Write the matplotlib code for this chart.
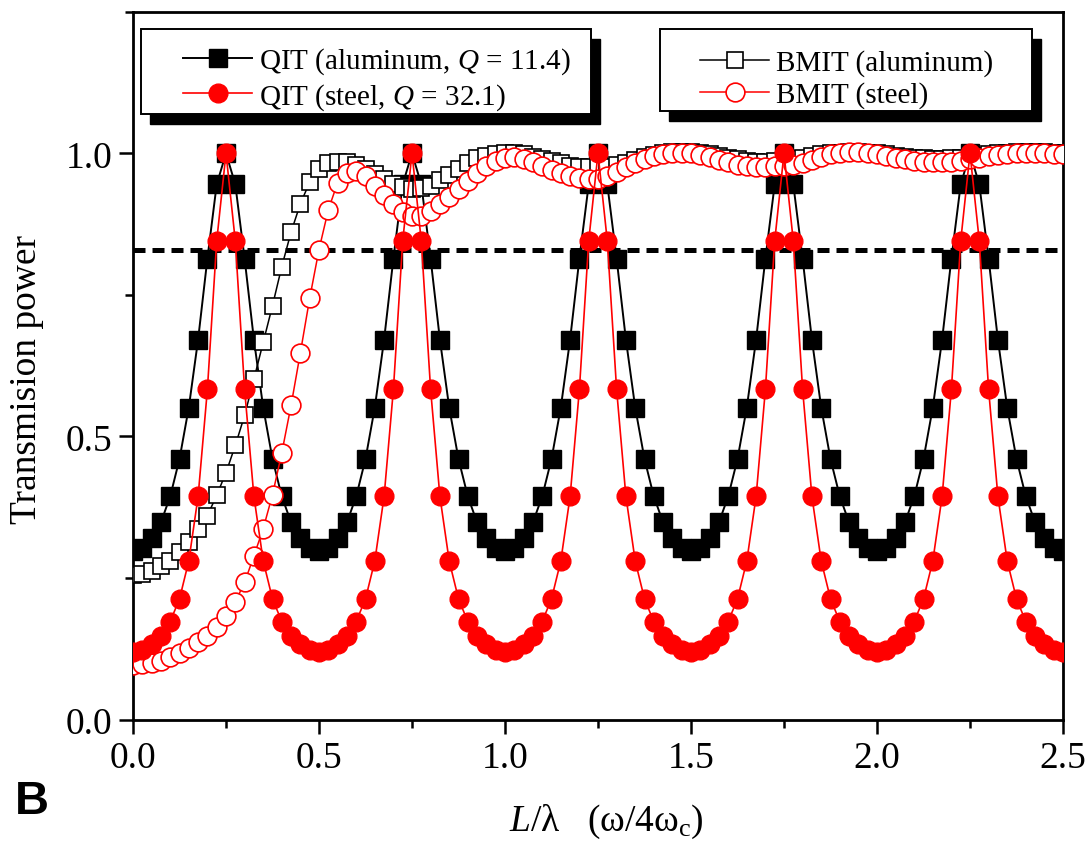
"""Transmission power vs L/lambda: QIT and BMIT for aluminum and steel."""

import matplotlib
matplotlib.use("Agg")
import matplotlib.pyplot as plt
from matplotlib.patches import Rectangle
from matplotlib.ticker import MultipleLocator
import numpy as np

plt.rcParams["font.family"] = ["Liberation Serif", "DejaVu Serif"]
plt.rcParams["mathtext.fontset"] = "custom"
plt.rcParams["mathtext.rm"] = "Liberation Serif"
plt.rcParams["mathtext.it"] = "Liberation Serif:italic"

# ---------- data (step 0.025 in L/lambda) ----------
x_vals = np.linspace(0.0, 2.5, 101)

qit_aluminum = [
    0.298, 0.303, 0.321, 0.348, 0.394, 0.460, 0.551, 0.671, 0.814, 0.945,
    1.000, 0.945, 0.814, 0.671, 0.551, 0.460, 0.394, 0.348, 0.321, 0.303,
    0.298, 0.303, 0.321, 0.348, 0.394, 0.460, 0.551, 0.671, 0.814, 0.945,
    1.000, 0.945, 0.814, 0.671, 0.551, 0.460, 0.394, 0.348, 0.321, 0.303,
    0.298, 0.303, 0.321, 0.348, 0.394, 0.460, 0.551, 0.671, 0.814, 0.945,
    1.000, 0.945, 0.814, 0.671, 0.551, 0.460, 0.394, 0.348, 0.321, 0.303,
    0.298, 0.303, 0.321, 0.348, 0.394, 0.460, 0.551, 0.671, 0.814, 0.945,
    1.000, 0.945, 0.814, 0.671, 0.551, 0.460, 0.394, 0.348, 0.321, 0.303,
    0.298, 0.303, 0.321, 0.348, 0.394, 0.460, 0.551, 0.671, 0.814, 0.945,
    1.000, 0.945, 0.814, 0.671, 0.551, 0.460, 0.394, 0.348, 0.321, 0.303,
    0.298,
]

qit_steel = [
    0.119, 0.123, 0.133, 0.148, 0.173, 0.213, 0.280, 0.394, 0.583, 0.845,
    1.000, 0.845, 0.583, 0.394, 0.280, 0.213, 0.173, 0.148, 0.133, 0.123,
    0.119, 0.123, 0.133, 0.148, 0.173, 0.213, 0.280, 0.394, 0.583, 0.845,
    1.000, 0.845, 0.583, 0.394, 0.280, 0.213, 0.173, 0.148, 0.133, 0.123,
    0.119, 0.123, 0.133, 0.148, 0.173, 0.213, 0.280, 0.394, 0.583, 0.845,
    1.000, 0.845, 0.583, 0.394, 0.280, 0.213, 0.173, 0.148, 0.133, 0.123,
    0.119, 0.123, 0.133, 0.148, 0.173, 0.213, 0.280, 0.394, 0.583, 0.845,
    1.000, 0.845, 0.583, 0.394, 0.280, 0.213, 0.173, 0.148, 0.133, 0.123,
    0.119, 0.123, 0.133, 0.148, 0.173, 0.213, 0.280, 0.394, 0.583, 0.845,
    1.000, 0.845, 0.583, 0.394, 0.280, 0.213, 0.173, 0.148, 0.133, 0.123,
    0.119,
]

bmit_aluminum = [
    0.255,
    0.257, 0.262, 0.271, 0.280, 0.295, 0.313, 0.337, 0.360, 0.396, 0.436,
    0.484, 0.537, 0.601, 0.666, 0.731, 0.800, 0.861, 0.911, 0.949, 0.973,
    0.983, 0.985, 0.984, 0.980, 0.973, 0.964, 0.955, 0.946, 0.940, 0.937,
    0.938, 0.943, 0.952, 0.962, 0.973, 0.983, 0.991, 0.996, 0.999, 1.000,
    1.000, 0.998, 0.994, 0.990, 0.986, 0.982, 0.978, 0.976, 0.975, 0.975,
    0.976, 0.979, 0.983, 0.988, 0.993, 0.997, 1.000, 1.002, 1.002, 1.002,
    1.000, 0.998, 0.995, 0.992, 0.989, 0.987, 0.985, 0.985, 0.986, 0.987,
    0.989, 0.992, 0.995, 0.998, 1.000, 1.001, 1.002, 1.002, 1.001, 1.000,
    0.998, 0.996, 0.994, 0.992, 0.991, 0.990, 0.990, 0.991, 0.992, 0.994,
    0.996, 0.998, 1.000, 1.001, 1.002, 1.002, 1.002, 1.002, 1.001, 1.000,
]

bmit_steel = [
    0.097,
    0.098, 0.100, 0.104, 0.110, 0.117, 0.126, 0.136, 0.148, 0.164, 0.183,
    0.208, 0.242, 0.289, 0.337, 0.397, 0.471, 0.555, 0.648, 0.744, 0.830,
    0.900, 0.948, 0.966, 0.968, 0.960, 0.942, 0.927, 0.910, 0.897, 0.889,
    0.890, 0.898, 0.910, 0.922, 0.936, 0.951, 0.965, 0.977, 0.986, 0.992,
    0.993, 0.990, 0.984, 0.977, 0.971, 0.965, 0.960, 0.956, 0.954, 0.955,
    0.960, 0.967, 0.975, 0.983, 0.990, 0.995, 0.999, 1.001, 1.001, 1.000,
    0.997, 0.993, 0.988, 0.984, 0.980, 0.977, 0.976, 0.976, 0.977, 0.978,
    0.980, 0.983, 0.988, 0.993, 0.998, 1.001, 1.002, 1.002, 1.000, 0.998,
    0.995, 0.992, 0.989, 0.987, 0.985, 0.984, 0.984, 0.985, 0.987, 0.989,
    0.992, 0.995, 0.997, 0.999, 1.000, 1.001, 1.001, 1.000, 0.999, 0.998,
]

threshold = 0.83

labels_left = ["QIT (aluminum, $Q$ = 11.4)", "QIT (steel, $Q$ = 32.1)"]
labels_right = ["BMIT (aluminum)", "BMIT (steel)"]

RED = "#ff0000"

# ---------- figure ----------
W, H = 1091, 853
fig = plt.figure(figsize=(W / 100, H / 100), dpi=100)
ax = fig.add_axes([133 / W, 1 - 720.5 / H, 930 / W, 707.8 / H])

ax.axhline(threshold, color="black", lw=3.6, dashes=(2.4, 1.4), zorder=1)

l_qa, = ax.plot(x_vals, qit_aluminum, "s-", color="black", lw=1.4,
                markersize=12.5, markerfacecolor="black",
                markeredgecolor="black", zorder=2)
l_ba, = ax.plot(x_vals, bmit_aluminum, "s-", color="black", lw=1.1,
                markersize=11, markerfacecolor="white",
                markeredgecolor="black", markeredgewidth=1.2, zorder=3)
l_bs, = ax.plot(x_vals, bmit_steel, "o-", color=RED, lw=1.1,
                markersize=13.5, markerfacecolor="white",
                markeredgecolor=RED, markeredgewidth=1.2, zorder=4)
l_qs, = ax.plot(x_vals, qit_steel, "o-", color=RED, lw=1.2,
                markersize=13.5, markerfacecolor=RED,
                markeredgecolor=RED, zorder=5)

ax.set_xlim(0, 2.5)
ax.set_ylim(0, 1.25)
ax.xaxis.set_major_locator(MultipleLocator(0.5))
ax.xaxis.set_minor_locator(MultipleLocator(0.25))
ax.yaxis.set_major_locator(MultipleLocator(0.5))
ax.yaxis.set_minor_locator(MultipleLocator(0.25))
ax.xaxis.set_major_formatter(matplotlib.ticker.FormatStrFormatter("%.1f"))
ax.yaxis.set_major_formatter(matplotlib.ticker.FormatStrFormatter("%.1f"))
ax.tick_params(which="both", direction="out", top=False, right=False,
               width=1.8, labelsize=27)
ax.tick_params(which="major", length=10, pad=5)
ax.tick_params(which="minor", length=5.5)
for sp in ax.spines.values():
    sp.set_linewidth(2.0)

ax.set_xlabel(r"$L$/λ   (ω/4ω$_{\mathrm{c}}$)", fontsize=27)
ax.xaxis.set_label_coords((606 - 133) / 930, (720.5 - 803) / 707.8)
ax.set_ylabel("Transmision power", fontsize=27)
ax.yaxis.set_label_coords((44 - 133) / 930, (720.5 - 380) / 707.8)

fig.text(15 / W, 1 - 802 / H, "B", fontsize=34, fontweight="bold",
         family="Liberation Sans", ha="left", va="center")

# ---------- legend boxes with solid shadows ----------
def box(x0, y0, x1, y1, dx=9, dy=10):
    # transform=None: display (pixel) coords at dpi 100
    shadow = Rectangle((x0 + dx, H - y1 - dy), x1 - x0, y1 - y0,
                       transform=None, facecolor="black", edgecolor="black",
                       clip_on=False, zorder=6)
    frame = Rectangle((x0, H - y1), x1 - x0, y1 - y0, transform=None,
                      facecolor="white", edgecolor="black", lw=1.4,
                      clip_on=False, zorder=7)
    ax.add_patch(shadow)
    ax.add_patch(frame)


box(141, 30, 591, 115)
box(660, 30, 1032, 112)

leg_kw = dict(loc="center left", bbox_transform=fig.transFigure,
              frameon=False, fontsize=21, borderpad=0, borderaxespad=0,
              handlelength=2.37, handletextpad=0.24, labelspacing=0.17)
leg1 = ax.legend([l_qa, l_qs], labels_left,
                 bbox_to_anchor=(183 / W, 1 - 79.7 / H), **leg_kw)
leg1.set_zorder(8)
ax.add_artist(leg1)
leg2 = ax.legend([l_ba, l_bs], labels_right,
                 bbox_to_anchor=(700 / W, 1 - 79.7 / H), **leg_kw)
leg2.set_zorder(8)

fig.savefig("out.png", dpi=100, facecolor="white")
